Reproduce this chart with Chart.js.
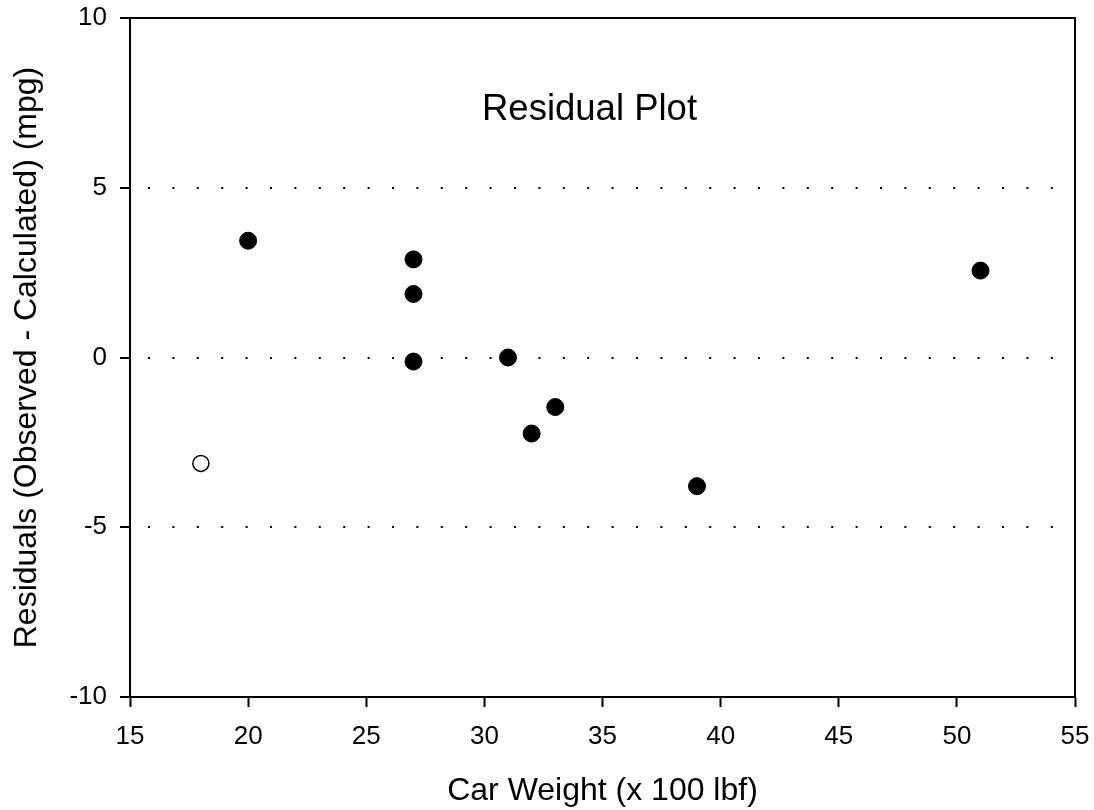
<!DOCTYPE html>
<html>
<head>
<meta charset="utf-8">
<title>Residual Plot</title>
<script src="https://cdn.jsdelivr.net/npm/chart.js@4"></script>
<style>
  body { margin: 0; background: #fff; }
  #wrap { width: 1094px; height: 810px; }
</style>
</head>
<body>
<div id="wrap"><canvas id="chart" width="1094" height="810"></canvas></div>
<script>
// car weight (x 100 lbf) and residual (mpg) of each car
const weights = [20, 27, 27, 27, 31, 32, 33, 39, 51];
const residuals = [3.44, 2.89, 1.87, -0.12, 0.0, -2.24, -1.46, -3.79, 2.56];
// the one open circle
const outlierWeights = [18];
const outlierResiduals = [-3.12];
// axes
const xTicks = [15, 20, 25, 30, 35, 40, 45, 50, 55];
const yTicks = [-10, -5, 0, 5, 10];

const FONT = "'Liberation Sans', Arial, sans-serif";

const toPoints = (xs, ys) => xs.map((x, i) => ({ x: x, y: ys[i] }));

// no extra room for overhanging tick labels, the layout padding does it
const noScalePadding = (scale) => {
  scale.paddingTop = 0;
  scale.paddingBottom = 0;
  scale.paddingLeft = 0;
  scale.paddingRight = 0;
};

// box round the plot + the label inside it
const framePlugin = {
  id: 'frame',
  afterDraw(chart) {
    const { ctx, chartArea, scales } = chart;
    ctx.save();
    ctx.strokeStyle = '#000';
    ctx.lineWidth = 2;
    ctx.beginPath();
    ctx.moveTo(chartArea.left, chartArea.top);
    ctx.lineTo(chartArea.right, chartArea.top);
    ctx.lineTo(chartArea.right, chartArea.bottom);
    ctx.stroke();

    ctx.fillStyle = '#000';
    ctx.font = `36.5px ${FONT}`;
    ctx.textAlign = 'center';
    ctx.textBaseline = 'middle';
    ctx.fillText('Residual Plot', scales.x.getPixelForValue(34.45), scales.y.getPixelForValue(7.3));
    ctx.restore();
  }
};

new Chart(document.getElementById('chart'), {
  type: 'scatter',
  data: {
    datasets: [
      {
        label: 'Residuals',
        data: toPoints(weights, residuals),
        backgroundColor: '#000',
        borderColor: '#000',
        borderWidth: 1,
        pointRadius: 8.5,
        pointHoverRadius: 8.5
      },
      {
        label: 'Outlier',
        data: toPoints(outlierWeights, outlierResiduals),
        backgroundColor: '#fff',
        borderColor: '#000',
        borderWidth: 1.5,
        pointRadius: 8,
        pointHoverRadius: 8
      }
    ]
  },
  plugins: [framePlugin],
  options: {
    responsive: false,
    animation: false,
    events: [],
    layout: { padding: { top: 18, right: 19, bottom: 0, left: 0 } },
    plugins: {
      legend: { display: false },
      tooltip: { enabled: false },
      title: { display: false }
    },
    scales: {
      x: {
        type: 'linear',
        min: xTicks[0],
        max: xTicks[xTicks.length - 1],
        afterBuildTicks: (scale) => { scale.ticks = xTicks.map(v => ({ value: v })); },
        afterFit: (scale) => { scale.height = 113; noScalePadding(scale); },
        ticks: {
          color: '#000',
          font: { family: FONT, size: 26 },
          padding: 14,
          maxRotation: 0,
          autoSkip: false
        },
        grid: {
          drawOnChartArea: false,
          drawTicks: true,
          tickLength: 10,
          tickColor: '#000',
          tickWidth: 2
        },
        border: { color: '#000', width: 2 },
        title: {
          display: true,
          text: 'Car Weight (x 100 lbf)',
          color: '#000',
          font: { family: FONT, size: 32 },
          padding: { top: 0, bottom: 0 }
        }
      },
      y: {
        type: 'linear',
        min: yTicks[0],
        max: yTicks[yTicks.length - 1],
        afterBuildTicks: (scale) => { scale.ticks = yTicks.map(v => ({ value: v })); },
        afterFit: (scale) => { scale.width = 130; noScalePadding(scale); },
        ticks: {
          color: '#000',
          font: { family: FONT, size: 26 },
          padding: 13,
          autoSkip: false
        },
        grid: {
          color: (c) => (c.tick && Math.abs(c.tick.value) === 10 ? 'rgba(0,0,0,0)' : '#000'),
          lineWidth: 2,
          drawTicks: true,
          tickLength: 10,
          tickColor: '#000',
          tickWidth: 2,
          tickBorderDash: []
        },
        border: { color: '#000', width: 2, dash: [2, 22.4], dashOffset: 7.4 },
        title: {
          display: true,
          text: 'Residuals (Observed - Calculated) (mpg)',
          color: '#000',
          font: { family: FONT, size: 32 },
          padding: { top: 8, bottom: 0 }
        }
      }
    }
  }
});
</script>
</body>
</html>
